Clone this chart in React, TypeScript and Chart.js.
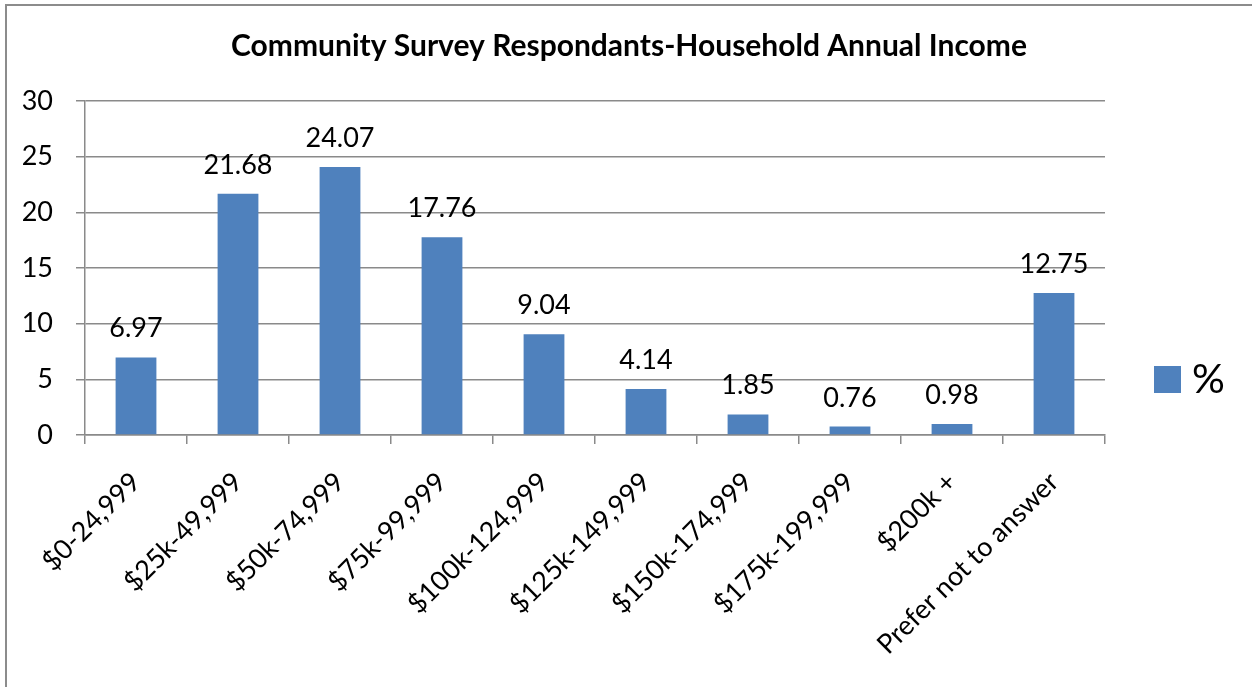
import React, { useEffect, useRef } from "react";
import { Chart, registerables } from "chart.js";

Chart.register(...registerables);

const TITLE = "Community Survey Respondants-Household Annual Income";
const SERIES_LABEL = "%";
const categories = [
  "$0-24,999",
  "$25k-49,999",
  "$50k-74,999",
  "$75k-99,999",
  "$100k-124,999",
  "$125k-149,999",
  "$150k-174,999",
  "$175k-199,999",
  "$200k +",
  "Prefer not to answer",
];
const values = [6.97, 21.68, 24.07, 17.76, 9.04, 4.14, 1.85, 0.76, 0.98, 12.75];
const Y_MIN = 0;
const Y_MAX = 30;
const Y_STEP = 5;

const FONT = "Lato, 'Open Sans', sans-serif";
const BAR_COLOR = "#4f81bd";
const GRID_COLOR = "#8a8a8a";

const frameBorder = {
  id: "frameBorder",
  beforeDraw(chart: any) {
    const ctx = chart.ctx;
    ctx.save();
    ctx.strokeStyle = "#8c8c8c";
    ctx.lineWidth = 2;
    ctx.beginPath();
    ctx.moveTo(6, chart.height + 10);
    ctx.lineTo(6, 5);
    ctx.lineTo(chart.width + 10, 5);
    ctx.stroke();
    ctx.restore();
  },
};

const chartTitle = {
  id: "chartTitle",
  afterDraw(chart: any) {
    const ctx = chart.ctx;
    ctx.save();
    ctx.font = `bold 30px ${FONT}`;
    ctx.fillStyle = "#000";
    ctx.textAlign = "center";
    ctx.textBaseline = "middle";
    ctx.fillText(TITLE, 629, 46);
    ctx.restore();
  },
};

const valueLabels = {
  id: "valueLabels",
  afterDatasetsDraw(chart: any) {
    const ctx = chart.ctx;
    const meta = chart.getDatasetMeta(0);
    const data = chart.data.datasets[0].data;
    ctx.save();
    ctx.font = `27px ${FONT}`;
    ctx.fillStyle = "#000";
    ctx.textAlign = "center";
    ctx.textBaseline = "alphabetic";
    meta.data.forEach((bar: any, i: number) => {
      ctx.fillText(Number(data[i]).toFixed(2), bar.x, bar.y - 20);
    });
    ctx.restore();
  },
};

const sideLegend = {
  id: "sideLegend",
  afterDraw(chart: any) {
    const ctx = chart.ctx;
    const ds = chart.data.datasets[0];
    const area = chart.chartArea;
    const x = area.right + 49;
    const cy = 380;
    ctx.save();
    ctx.fillStyle = ds.backgroundColor;
    ctx.fillRect(x, cy - 14, 27, 27);
    ctx.fillStyle = "#000";
    ctx.font = `41px ${FONT}`;
    ctx.textAlign = "left";
    ctx.textBaseline = "middle";
    ctx.fillText(ds.label, x + 38, cy);
    ctx.restore();
  },
};

export default function App() {
  const ref = useRef<HTMLCanvasElement | null>(null);
  useEffect(() => {
    if (!ref.current) return;
    const chart = new Chart(ref.current, {
      type: "bar",
      data: {
        labels: categories,
        datasets: [
          {
            label: SERIES_LABEL,
            data: values,
            backgroundColor: BAR_COLOR,
            borderWidth: 0,
            categoryPercentage: 1,
            barPercentage: 0.4,
          },
        ],
      },
      options: {
        responsive: false,
        animation: false,
        layout: { padding: { left: 0, right: 147, top: 101, bottom: 0 } },
        plugins: {
          legend: { display: false },
          tooltip: { enabled: false },
          title: { display: false },
        },
        scales: {
          x: {
            grid: {
              display: true,
              drawOnChartArea: false,
              drawTicks: true,
              tickLength: 9,
              color: GRID_COLOR,
              lineWidth: 1.5,
              offset: true,
            },
            border: { display: true, color: GRID_COLOR, width: 1.5 },
            ticks: {
              autoSkip: false,
              maxRotation: 45,
              minRotation: 45,
              padding: 22,
              color: "#000",
              font: { family: FONT, size: 27 },
            },
            afterFit(scale: any) {
              scale.height = 252;
            },
          },
          y: {
            min: Y_MIN,
            max: Y_MAX,
            ticks: {
              stepSize: Y_STEP,
              padding: 23,
              color: "#000",
              font: { family: FONT, size: 27 },
            },
            grid: {
              color: GRID_COLOR,
              lineWidth: 1.5,
              tickLength: 9,
              drawTicks: true,
            },
            border: { display: true, color: GRID_COLOR, width: 1.5 },
            afterFit(scale: any) {
              scale.width = 85;
            },
          },
        },
      },
      plugins: [frameBorder, valueLabels, sideLegend, chartTitle],
    });
    return () => chart.destroy();
  }, []);
  return (
    <div style={{ position: "fixed", left: 0, top: 0, width: 1252, height: 687, background: "#fff" }}>
      <canvas ref={ref} width={1252} height={687} style={{ display: "block" }} />
    </div>
  );
}
